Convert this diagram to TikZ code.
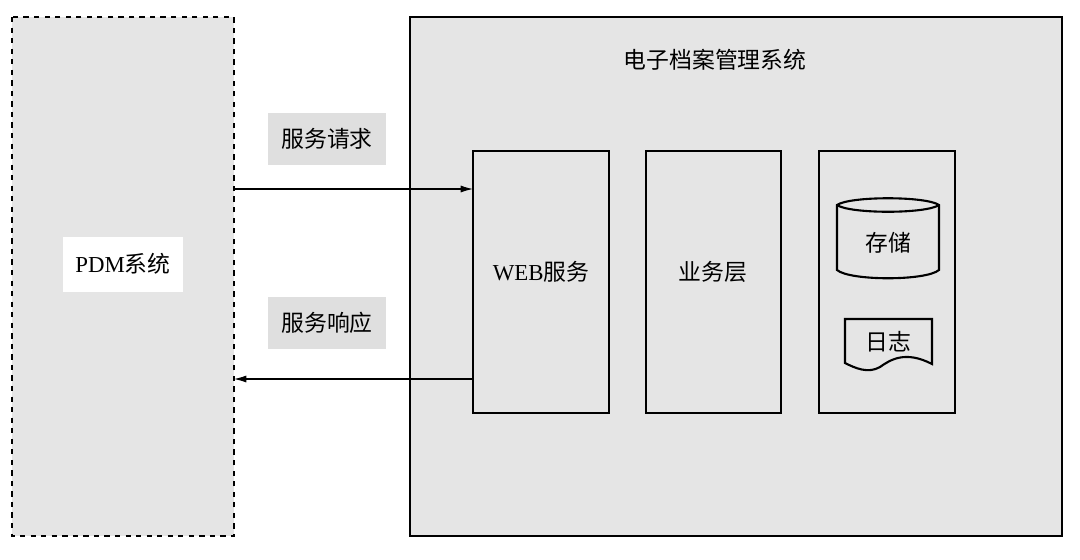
\documentclass[tikz,border=0pt]{standalone}
\usepackage{fontspec}
\setmainfont{Liberation Serif}
\newfontfamily\cjk{Noto Sans CJK SC}
\usetikzlibrary{shapes.geometric,arrows.meta}
\begin{document}
\begin{tikzpicture}[x=0.02cm,y=-0.02cm,
  box/.style={draw=black,line width=1.2pt,fill=gray!20},
  lbl/.style={fill=gray!25,minimum width=118*0.02cm,minimum height=52*0.02cm,font=\cjk\fontsize{13}{15}\selectfont},
  arr/.style={-{Latex[length=7pt,width=4pt]},line width=0.6pt}]
\useasboundingbox (0,0) rectangle (1080,559);
\fill[white] (0,0) rectangle (1080,559);
\draw[dashed,fill=gray!20,line width=0.7pt] (12,17) rectangle (234,536);
\node[fill=white,minimum width=120*0.02cm,minimum height=55*0.02cm,font=\fontsize{13}{15}\selectfont] (pdm) at (123,264) {PDM{\cjk 系统}};
\draw[box] (410,17) rectangle (1062,536);
\node[font=\cjk\fontsize{13}{15}\selectfont] (title) at (715,60) {电子档案管理系统};
\draw[box] (473,151) rectangle (609,413);
\node[font=\fontsize{13}{15}\selectfont] (web) at (541,272) {WEB{\cjk 服务}};
\draw[box] (646,151) rectangle (781,413);
\node[font=\cjk\fontsize{13}{15}\selectfont] (biz) at (713,272) {业务层};
\draw[box] (819,151) rectangle (955,413);
% cylinder
\draw[line width=1.2pt,fill=gray!20] (837,205) .. controls (850,196) and (926,196) .. (939,205) -- (939,270) .. controls (926,281) and (850,281) .. (837,270) -- cycle;
\draw[line width=1.2pt] (837,205) .. controls (850,214) and (926,214) .. (939,205);
\node[font=\cjk\fontsize{13}{15}\selectfont] (store) at (888,243) {存储};
% document
\draw[line width=1.2pt,fill=gray!20] (845,319) -- (932,319) -- (932,364) .. controls (905,350) and (890,360) .. (880,367) .. controls (868,374) and (855,368) .. (845,363) -- cycle;
\node[font=\cjk\fontsize{13}{15}\selectfont] (log) at (888,342) {日志};
\node[lbl] (req) at (327,139) {服务请求};
\node[lbl] (resp) at (327,323) {服务响应};
\coordinate (a1) at (234,189); \coordinate (a2) at (473,189);
\coordinate (b1) at (473,379); \coordinate (b2) at (234,379);
\draw[arr] (a1) -- (a2);
\draw[arr] (b1) -- (b2);
\end{tikzpicture}
\end{document}
